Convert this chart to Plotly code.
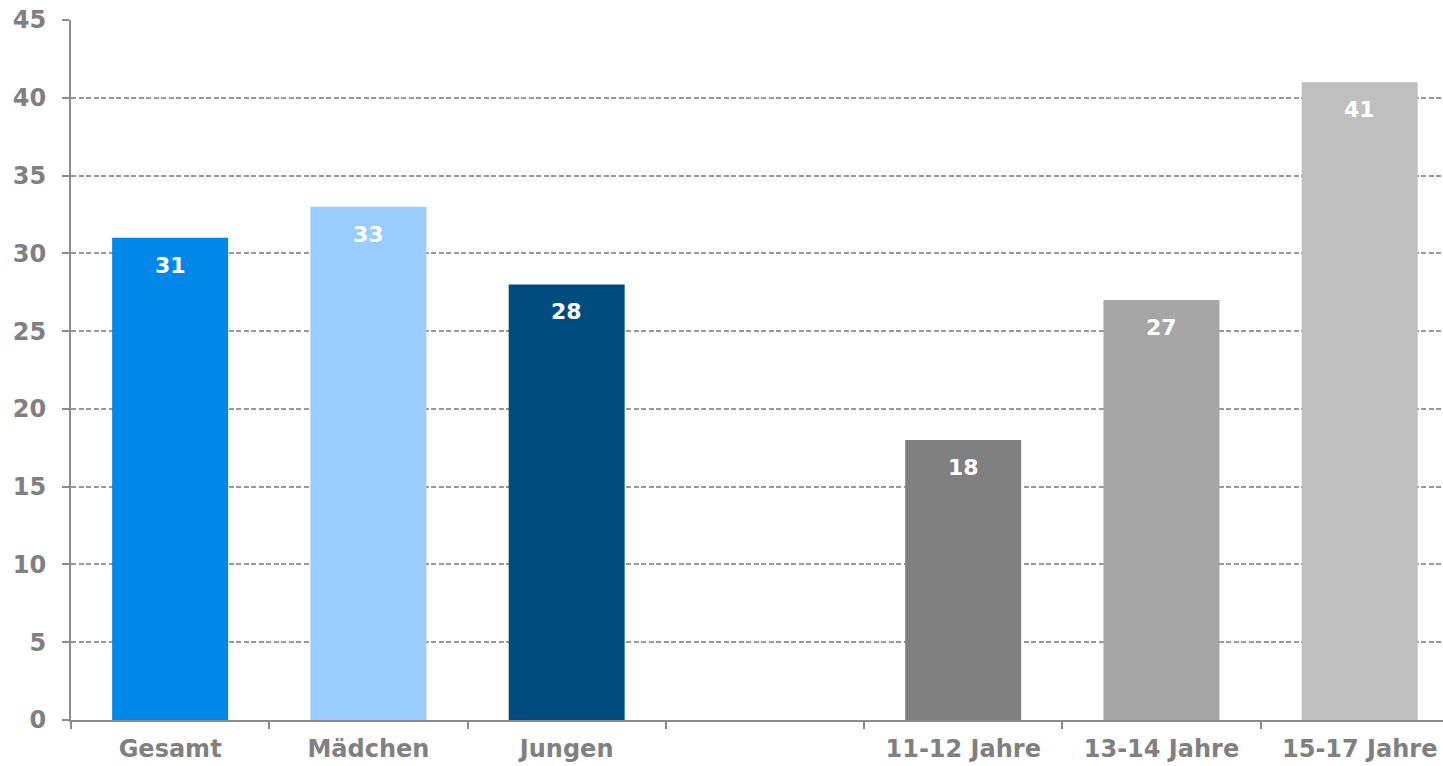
import plotly.graph_objects as go

# Categories (a blank slot separates the gender group from the age group)
category_order = ["Gesamt", "Mädchen", "Jungen", " ", "11-12 Jahre", "13-14 Jahre", "15-17 Jahre"]
bar_categories = ["Gesamt", "Mädchen", "Jungen", "11-12 Jahre", "13-14 Jahre", "15-17 Jahre"]
bar_values = [31, 33, 28, 18, 27, 41]
bar_colors = ["#0088E8", "#99CCFF", "#004C7F", "#808080", "#A6A6A6", "#BFBFBF"]
y_ticks = [0, 5, 10, 15, 20, 25, 30, 35, 40, 45]

FONT = "DejaVu Sans, Verdana, sans-serif"
GREY = "#808080"
LINE = "#8C8C8C"

fig = go.Figure()
fig.add_trace(go.Bar(
    x=bar_categories,
    y=bar_values,
    marker=dict(color=bar_colors, line=dict(width=0)),
    width=0.585,
    hoverinfo="skip",
))

# value labels just below the top of each bar
for cat, val in zip(bar_categories, bar_values):
    fig.add_annotation(
        x=cat, y=val, yref="y", xref="x",
        text=f"<b>{val}</b>", showarrow=False,
        yanchor="top", yshift=-13,
        font=dict(family=FONT, size=22, color="white"),
    )

fig.update_layout(
    width=1443, height=766,
    margin=dict(l=71, r=0, t=20, b=46),
    paper_bgcolor="white", plot_bgcolor="white",
    showlegend=False,
    font=dict(family=FONT, size=24, color=GREY),
    xaxis=dict(
        type="category",
        categoryorder="array", categoryarray=category_order,
        tickvals=category_order,
        ticktext=[f"<b>{c}</b>" if c.strip() else "" for c in category_order],
        range=[-0.5, 6.42],
        showline=True, linecolor=LINE, linewidth=2,
        ticks="outside", tickson="boundaries", ticklen=7, tickcolor=LINE, tickwidth=1.5,
        showgrid=False, zeroline=False,
        tickfont=dict(family=FONT, size=24, color=GREY),
        ticklabelstandoff=6,
    ),
    yaxis=dict(
        range=[0, 45],
        tickvals=y_ticks,
        ticktext=[f"<b>{v}</b>" for v in y_ticks],
        showline=True, linecolor=LINE, linewidth=2,
        ticks="outside", ticklen=7, tickcolor=LINE, tickwidth=1.5,
        showgrid=True, gridcolor="#999999", griddash="5px,2.5px", gridwidth=1.5,
        zeroline=False,
        tickfont=dict(family=FONT, size=24, color=GREY),
        ticklabelstandoff=11,
    ),
)

fig.write_html("out.html")
